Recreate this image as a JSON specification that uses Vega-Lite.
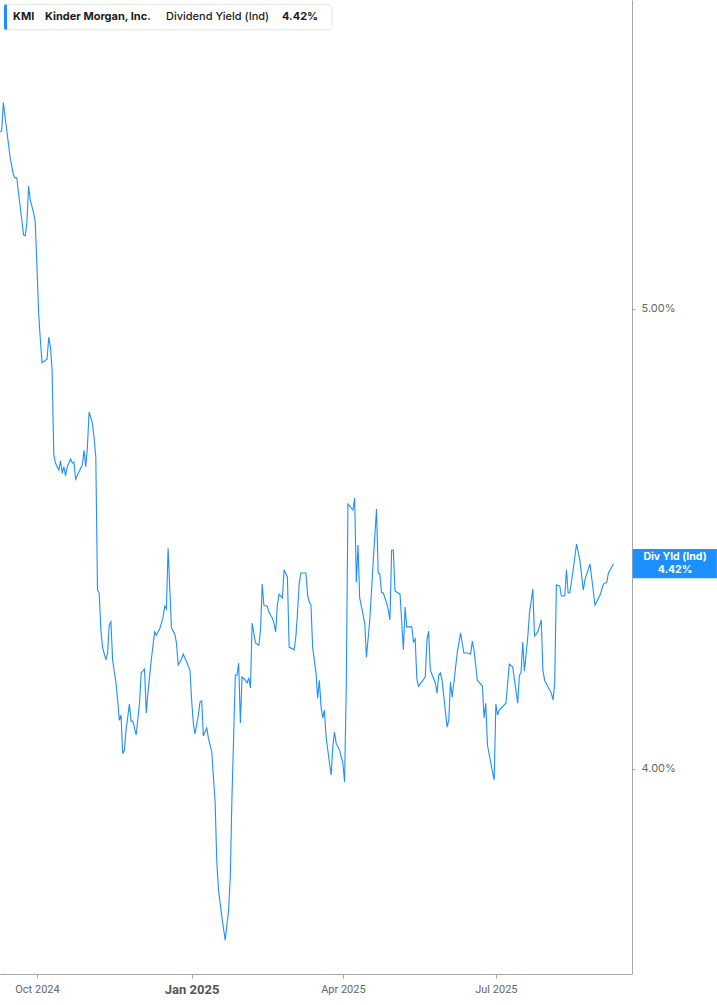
{
  "$schema": "https://vega.github.io/schema/vega-lite/v6.json",
  "width": 632,
  "height": 974,
  "autosize": {"type": "none"},
  "padding": {"left": 0, "top": 0, "right": 85, "bottom": 31},
  "background": "white",
  "config": {
    "view": {"stroke": null},
    "font": "Inter",
    "axis": {"grid": false, "title": null, "domainColor": "#a6a6a6", "tickColor": "#a6a6a6", "labelColor": "#666666", "labelFont": "Inter", "labelFontSize": 11}
  },
  "datasets": {
    "kmi": [
      {"date": "2024-09-09", "yield": 5.385}, {"date": "2024-09-10", "yield": 5.387}, {"date": "2024-09-11", "yield": 5.449},
      {"date": "2024-09-13", "yield": 5.389}, {"date": "2024-09-15", "yield": 5.330}, {"date": "2024-09-17", "yield": 5.291},
      {"date": "2024-09-18", "yield": 5.285}, {"date": "2024-09-19", "yield": 5.285}, {"date": "2024-09-20", "yield": 5.252},
      {"date": "2024-09-22", "yield": 5.193}, {"date": "2024-09-23", "yield": 5.161}, {"date": "2024-09-24", "yield": 5.159},
      {"date": "2024-09-25", "yield": 5.187}, {"date": "2024-09-26", "yield": 5.267}, {"date": "2024-09-27", "yield": 5.237},
      {"date": "2024-09-29", "yield": 5.209}, {"date": "2024-09-30", "yield": 5.187}, {"date": "2024-10-01", "yield": 5.091},
      {"date": "2024-10-02", "yield": 4.991}, {"date": "2024-10-03", "yield": 4.933}, {"date": "2024-10-04", "yield": 4.883},
      {"date": "2024-10-07", "yield": 4.891}, {"date": "2024-10-08", "yield": 4.939}, {"date": "2024-10-09", "yield": 4.917},
      {"date": "2024-10-10", "yield": 4.867}, {"date": "2024-10-11", "yield": 4.683}, {"date": "2024-10-12", "yield": 4.665},
      {"date": "2024-10-14", "yield": 4.650}, {"date": "2024-10-15", "yield": 4.670}, {"date": "2024-10-16", "yield": 4.643},
      {"date": "2024-10-17", "yield": 4.657}, {"date": "2024-10-18", "yield": 4.637}, {"date": "2024-10-19", "yield": 4.657},
      {"date": "2024-10-21", "yield": 4.674}, {"date": "2024-10-22", "yield": 4.665}, {"date": "2024-10-23", "yield": 4.667},
      {"date": "2024-10-24", "yield": 4.630}, {"date": "2024-10-26", "yield": 4.646}, {"date": "2024-10-28", "yield": 4.661},
      {"date": "2024-10-29", "yield": 4.693}, {"date": "2024-10-30", "yield": 4.657}, {"date": "2024-10-31", "yield": 4.700},
      {"date": "2024-11-01", "yield": 4.776}, {"date": "2024-11-03", "yield": 4.752}, {"date": "2024-11-04", "yield": 4.719},
      {"date": "2024-11-05", "yield": 4.678}, {"date": "2024-11-06", "yield": 4.389}, {"date": "2024-11-07", "yield": 4.383},
      {"date": "2024-11-08", "yield": 4.302}, {"date": "2024-11-09", "yield": 4.265}, {"date": "2024-11-11", "yield": 4.237},
      {"date": "2024-11-12", "yield": 4.252}, {"date": "2024-11-13", "yield": 4.313}, {"date": "2024-11-14", "yield": 4.320},
      {"date": "2024-11-15", "yield": 4.237}, {"date": "2024-11-17", "yield": 4.187}, {"date": "2024-11-18", "yield": 4.150},
      {"date": "2024-11-19", "yield": 4.106}, {"date": "2024-11-20", "yield": 4.117}, {"date": "2024-11-21", "yield": 4.033},
      {"date": "2024-11-22", "yield": 4.041}, {"date": "2024-11-23", "yield": 4.085}, {"date": "2024-11-25", "yield": 4.141},
      {"date": "2024-11-26", "yield": 4.104}, {"date": "2024-11-27", "yield": 4.104}, {"date": "2024-11-29", "yield": 4.074},
      {"date": "2024-12-01", "yield": 4.143}, {"date": "2024-12-02", "yield": 4.209}, {"date": "2024-12-04", "yield": 4.217},
      {"date": "2024-12-05", "yield": 4.122}, {"date": "2024-12-06", "yield": 4.165}, {"date": "2024-12-08", "yield": 4.237},
      {"date": "2024-12-10", "yield": 4.298}, {"date": "2024-12-11", "yield": 4.291}, {"date": "2024-12-13", "yield": 4.304},
      {"date": "2024-12-15", "yield": 4.330}, {"date": "2024-12-16", "yield": 4.354}, {"date": "2024-12-17", "yield": 4.348},
      {"date": "2024-12-18", "yield": 4.480}, {"date": "2024-12-20", "yield": 4.307}, {"date": "2024-12-22", "yield": 4.293},
      {"date": "2024-12-23", "yield": 4.274}, {"date": "2024-12-24", "yield": 4.226}, {"date": "2024-12-26", "yield": 4.239},
      {"date": "2024-12-27", "yield": 4.250}, {"date": "2024-12-29", "yield": 4.233}, {"date": "2024-12-31", "yield": 4.215},
      {"date": "2025-01-01", "yield": 4.150}, {"date": "2025-01-02", "yield": 4.100}, {"date": "2025-01-03", "yield": 4.076},
      {"date": "2025-01-05", "yield": 4.117}, {"date": "2025-01-06", "yield": 4.146}, {"date": "2025-01-07", "yield": 4.148},
      {"date": "2025-01-08", "yield": 4.072}, {"date": "2025-01-10", "yield": 4.089}, {"date": "2025-01-11", "yield": 4.067},
      {"date": "2025-01-13", "yield": 4.037}, {"date": "2025-01-15", "yield": 3.926}, {"date": "2025-01-16", "yield": 3.796},
      {"date": "2025-01-17", "yield": 3.737}, {"date": "2025-01-19", "yield": 3.678}, {"date": "2025-01-21", "yield": 3.628},
      {"date": "2025-01-23", "yield": 3.693}, {"date": "2025-01-24", "yield": 3.765}, {"date": "2025-01-25", "yield": 3.939},
      {"date": "2025-01-26", "yield": 4.070}, {"date": "2025-01-27", "yield": 4.204}, {"date": "2025-01-28", "yield": 4.204},
      {"date": "2025-01-29", "yield": 4.230}, {"date": "2025-01-30", "yield": 4.100}, {"date": "2025-01-31", "yield": 4.200},
      {"date": "2025-02-02", "yield": 4.193}, {"date": "2025-02-03", "yield": 4.187}, {"date": "2025-02-04", "yield": 4.198},
      {"date": "2025-02-05", "yield": 4.176}, {"date": "2025-02-06", "yield": 4.317}, {"date": "2025-02-08", "yield": 4.274},
      {"date": "2025-02-10", "yield": 4.269}, {"date": "2025-02-11", "yield": 4.302}, {"date": "2025-02-12", "yield": 4.402},
      {"date": "2025-02-13", "yield": 4.356}, {"date": "2025-02-15", "yield": 4.354}, {"date": "2025-02-16", "yield": 4.341},
      {"date": "2025-02-18", "yield": 4.328}, {"date": "2025-02-19", "yield": 4.317}, {"date": "2025-02-20", "yield": 4.298},
      {"date": "2025-02-21", "yield": 4.356}, {"date": "2025-02-22", "yield": 4.380}, {"date": "2025-02-24", "yield": 4.372},
      {"date": "2025-02-25", "yield": 4.433}, {"date": "2025-02-27", "yield": 4.417}, {"date": "2025-02-28", "yield": 4.265},
      {"date": "2025-03-03", "yield": 4.259}, {"date": "2025-03-04", "yield": 4.287}, {"date": "2025-03-05", "yield": 4.339},
      {"date": "2025-03-06", "yield": 4.404}, {"date": "2025-03-07", "yield": 4.426}, {"date": "2025-03-10", "yield": 4.426},
      {"date": "2025-03-11", "yield": 4.378}, {"date": "2025-03-12", "yield": 4.363}, {"date": "2025-03-13", "yield": 4.356},
      {"date": "2025-03-14", "yield": 4.265}, {"date": "2025-03-16", "yield": 4.209}, {"date": "2025-03-17", "yield": 4.154},
      {"date": "2025-03-18", "yield": 4.193}, {"date": "2025-03-19", "yield": 4.135}, {"date": "2025-03-20", "yield": 4.111},
      {"date": "2025-03-21", "yield": 4.128}, {"date": "2025-03-22", "yield": 4.070}, {"date": "2025-03-24", "yield": 4.013},
      {"date": "2025-03-25", "yield": 3.987}, {"date": "2025-03-26", "yield": 4.048}, {"date": "2025-03-27", "yield": 4.080},
      {"date": "2025-03-28", "yield": 4.056}, {"date": "2025-03-30", "yield": 4.041}, {"date": "2025-03-31", "yield": 4.026},
      {"date": "2025-04-01", "yield": 4.013}, {"date": "2025-04-02", "yield": 3.972}, {"date": "2025-04-03", "yield": 4.178},
      {"date": "2025-04-04", "yield": 4.576}, {"date": "2025-04-07", "yield": 4.563}, {"date": "2025-04-08", "yield": 4.589},
      {"date": "2025-04-09", "yield": 4.406}, {"date": "2025-04-10", "yield": 4.487}, {"date": "2025-04-11", "yield": 4.372},
      {"date": "2025-04-14", "yield": 4.317}, {"date": "2025-04-15", "yield": 4.243}, {"date": "2025-04-17", "yield": 4.324},
      {"date": "2025-04-19", "yield": 4.448}, {"date": "2025-04-21", "yield": 4.565}, {"date": "2025-04-22", "yield": 4.426},
      {"date": "2025-04-23", "yield": 4.424}, {"date": "2025-04-24", "yield": 4.383}, {"date": "2025-04-25", "yield": 4.383},
      {"date": "2025-04-27", "yield": 4.361}, {"date": "2025-04-28", "yield": 4.346}, {"date": "2025-04-29", "yield": 4.324},
      {"date": "2025-04-30", "yield": 4.476}, {"date": "2025-05-01", "yield": 4.476}, {"date": "2025-05-02", "yield": 4.387},
      {"date": "2025-05-05", "yield": 4.380}, {"date": "2025-05-07", "yield": 4.259}, {"date": "2025-05-08", "yield": 4.352},
      {"date": "2025-05-09", "yield": 4.309}, {"date": "2025-05-12", "yield": 4.309}, {"date": "2025-05-13", "yield": 4.276},
      {"date": "2025-05-14", "yield": 4.283}, {"date": "2025-05-15", "yield": 4.196}, {"date": "2025-05-16", "yield": 4.180},
      {"date": "2025-05-20", "yield": 4.200}, {"date": "2025-05-21", "yield": 4.280}, {"date": "2025-05-22", "yield": 4.300},
      {"date": "2025-05-23", "yield": 4.215}, {"date": "2025-05-26", "yield": 4.187}, {"date": "2025-05-27", "yield": 4.165},
      {"date": "2025-05-28", "yield": 4.204}, {"date": "2025-05-29", "yield": 4.209}, {"date": "2025-05-30", "yield": 4.193},
      {"date": "2025-06-02", "yield": 4.091}, {"date": "2025-06-03", "yield": 4.106}, {"date": "2025-06-04", "yield": 4.189},
      {"date": "2025-06-05", "yield": 4.156}, {"date": "2025-06-06", "yield": 4.187}, {"date": "2025-06-08", "yield": 4.252},
      {"date": "2025-06-10", "yield": 4.296}, {"date": "2025-06-12", "yield": 4.252}, {"date": "2025-06-14", "yield": 4.252},
      {"date": "2025-06-16", "yield": 4.250}, {"date": "2025-06-17", "yield": 4.278}, {"date": "2025-06-18", "yield": 4.259},
      {"date": "2025-06-20", "yield": 4.193}, {"date": "2025-06-23", "yield": 4.180}, {"date": "2025-06-24", "yield": 4.111},
      {"date": "2025-06-25", "yield": 4.143}, {"date": "2025-06-26", "yield": 4.052}, {"date": "2025-06-28", "yield": 4.013},
      {"date": "2025-06-30", "yield": 3.976}, {"date": "2025-07-01", "yield": 4.141}, {"date": "2025-07-02", "yield": 4.117},
      {"date": "2025-07-03", "yield": 4.128}, {"date": "2025-07-07", "yield": 4.143}, {"date": "2025-07-09", "yield": 4.228},
      {"date": "2025-07-11", "yield": 4.222}, {"date": "2025-07-14", "yield": 4.143}, {"date": "2025-07-15", "yield": 4.204},
      {"date": "2025-07-16", "yield": 4.209}, {"date": "2025-07-17", "yield": 4.276}, {"date": "2025-07-18", "yield": 4.213},
      {"date": "2025-07-20", "yield": 4.287}, {"date": "2025-07-21", "yield": 4.339}, {"date": "2025-07-23", "yield": 4.391},
      {"date": "2025-07-24", "yield": 4.289}, {"date": "2025-07-26", "yield": 4.298}, {"date": "2025-07-28", "yield": 4.324},
      {"date": "2025-07-29", "yield": 4.215}, {"date": "2025-07-30", "yield": 4.193}, {"date": "2025-08-03", "yield": 4.165},
      {"date": "2025-08-04", "yield": 4.150}, {"date": "2025-08-05", "yield": 4.187}, {"date": "2025-08-06", "yield": 4.400},
      {"date": "2025-08-08", "yield": 4.398}, {"date": "2025-08-09", "yield": 4.376}, {"date": "2025-08-11", "yield": 4.376},
      {"date": "2025-08-12", "yield": 4.433}, {"date": "2025-08-13", "yield": 4.383}, {"date": "2025-08-14", "yield": 4.383},
      {"date": "2025-08-16", "yield": 4.433}, {"date": "2025-08-18", "yield": 4.489}, {"date": "2025-08-20", "yield": 4.454},
      {"date": "2025-08-22", "yield": 4.389}, {"date": "2025-08-23", "yield": 4.411}, {"date": "2025-08-26", "yield": 4.446},
      {"date": "2025-08-29", "yield": 4.356}, {"date": "2025-09-01", "yield": 4.378}, {"date": "2025-09-03", "yield": 4.402},
      {"date": "2025-09-05", "yield": 4.406}, {"date": "2025-09-06", "yield": 4.426}, {"date": "2025-09-09", "yield": 4.446}
    ]
  },
  "layer": [
    {
      "data": {"name": "kmi"},
      "mark": {"type": "line", "color": "#1E8FFF", "strokeWidth": 1.1},
      "encoding": {
        "x": {
          "field": "date",
          "type": "temporal",
          "scale": {"domain": [{"year": 2024, "month": 9, "date": 9}, {"year": 2025, "month": 9, "date": 20}]},
          "axis": {
            "values": [
              {"year": 2024, "month": 10, "date": 1},
              {"year": 2025, "month": 1, "date": 1},
              {"year": 2025, "month": 4, "date": 1},
              {"year": 2025, "month": 7, "date": 1}
            ],
            "format": "%b %Y",
            "labelFont": "Roboto",
            "tickSize": 4,
            "labelPadding": 5,
            "labelFontWeight": {"condition": {"test": "month(datum.value) === 0", "value": "bold"}, "value": "normal"},
            "labelFontSize": {"condition": {"test": "month(datum.value) === 0", "value": 13}, "value": 11},
            "labelColor": {"condition": {"test": "month(datum.value) === 0", "value": "#555555"}, "value": "#666666"}
          }
        },
        "y": {
          "field": "yield",
          "type": "quantitative",
          "scale": {"domain": [3.5543, 5.6717], "zero": false, "nice": false},
          "axis": {
            "orient": "right",
            "values": [4, 5],
            "labelExpr": "format(datum.value, '.2f') + '%'",
            "tickSize": 3,
            "labelPadding": 6
          }
        }
      }
    },
    {
      "data": {"values": [{"item": "legend"}]},
      "mark": {"type": "rect", "fill": "white", "stroke": "#e4e4e4", "strokeWidth": 1, "cornerRadius": 4},
      "encoding": {
        "x": {"datum": {"year": 2024, "month": 9, "date": 11, "hours": 9}, "type": "temporal"},
        "x2": {"datum": {"year": 2025, "month": 3, "date": 25, "hours": 12}},
        "y": {"datum": 5.662, "type": "quantitative"},
        "y2": {"datum": 5.607}
      }
    },
    {
      "data": {"values": [{"item": "legend"}]},
      "mark": {"type": "rect", "fill": "#1E8FFF", "cornerRadiusTopLeft": 3, "cornerRadiusBottomLeft": 3},
      "encoding": {
        "x": {"datum": {"year": 2024, "month": 9, "date": 11, "hours": 9}, "type": "temporal"},
        "x2": {"datum": {"year": 2024, "month": 9, "date": 13, "hours": 4}},
        "y": {"datum": 5.662, "type": "quantitative"},
        "y2": {"datum": 5.607}
      }
    },
    {
      "data": {"values": [{"item": "legend"}]},
      "mark": {"type": "text", "text": "KMI", "align": "left", "baseline": "middle", "font": "Inter", "fontSize": 11, "fontWeight": 700, "color": "#1a1a1a"},
      "encoding": {
        "x": {"datum": {"year": 2024, "month": 9, "date": 16, "hours": 17, "minutes": 30}, "type": "temporal"},
        "y": {"datum": 5.6354, "type": "quantitative"}
      }
    },
    {
      "data": {"values": [{"item": "legend"}]},
      "mark": {"type": "text", "text": "Kinder Morgan, Inc.", "align": "left", "baseline": "middle", "font": "Inter", "fontSize": 11, "fontWeight": 700, "color": "#1a1a1a"},
      "encoding": {
        "x": {"datum": {"year": 2024, "month": 10, "date": 5, "hours": 18, "minutes": 30}, "type": "temporal"},
        "y": {"datum": 5.6354, "type": "quantitative"}
      }
    },
    {
      "data": {"values": [{"item": "legend"}]},
      "mark": {"type": "text", "text": "Dividend Yield (Ind)", "align": "left", "baseline": "middle", "font": "Inter", "fontSize": 11, "fontWeight": 500, "color": "#1a1a1a"},
      "encoding": {
        "x": {"datum": {"year": 2024, "month": 12, "date": 16, "hours": 18}, "type": "temporal"},
        "y": {"datum": 5.6354, "type": "quantitative"}
      }
    },
    {
      "data": {"values": [{"item": "legend"}]},
      "mark": {"type": "text", "text": "4.42%", "align": "left", "baseline": "middle", "font": "Inter", "fontSize": 11, "fontWeight": 700, "color": "#1a1a1a"},
      "encoding": {
        "x": {"datum": {"year": 2025, "month": 2, "date": 23, "hours": 18, "minutes": 30}, "type": "temporal"},
        "y": {"datum": 5.6354, "type": "quantitative"}
      }
    },
    {
      "data": {"values": [{"item": "last"}]},
      "mark": {"type": "rect", "fill": "#1E8FFF"},
      "encoding": {
        "x": {"datum": {"year": 2025, "month": 9, "date": 20, "hours": 10}, "type": "temporal"},
        "x2": {"datum": {"year": 2025, "month": 11, "date": 9, "hours": 12}},
        "y": {"datum": 4.4782, "type": "quantitative"},
        "y2": {"datum": 4.4145}
      }
    },
    {
      "data": {"values": [{"item": "last"}]},
      "mark": {"type": "text", "text": "Div Yld (Ind)", "align": "center", "baseline": "middle", "font": "Inter", "fontSize": 10.5, "fontWeight": 700, "color": "white"},
      "encoding": {
        "x": {"datum": {"year": 2025, "month": 10, "date": 15, "hours": 14}, "type": "temporal"},
        "y": {"datum": 4.4602, "type": "quantitative"}
      }
    },
    {
      "data": {"values": [{"item": "last"}]},
      "mark": {"type": "text", "text": "4.42%", "align": "center", "baseline": "middle", "font": "Inter", "fontSize": 10.5, "fontWeight": 700, "color": "white"},
      "encoding": {
        "x": {"datum": {"year": 2025, "month": 10, "date": 15, "hours": 14}, "type": "temporal"},
        "y": {"datum": 4.4319, "type": "quantitative"}
      }
    }
  ]
}
